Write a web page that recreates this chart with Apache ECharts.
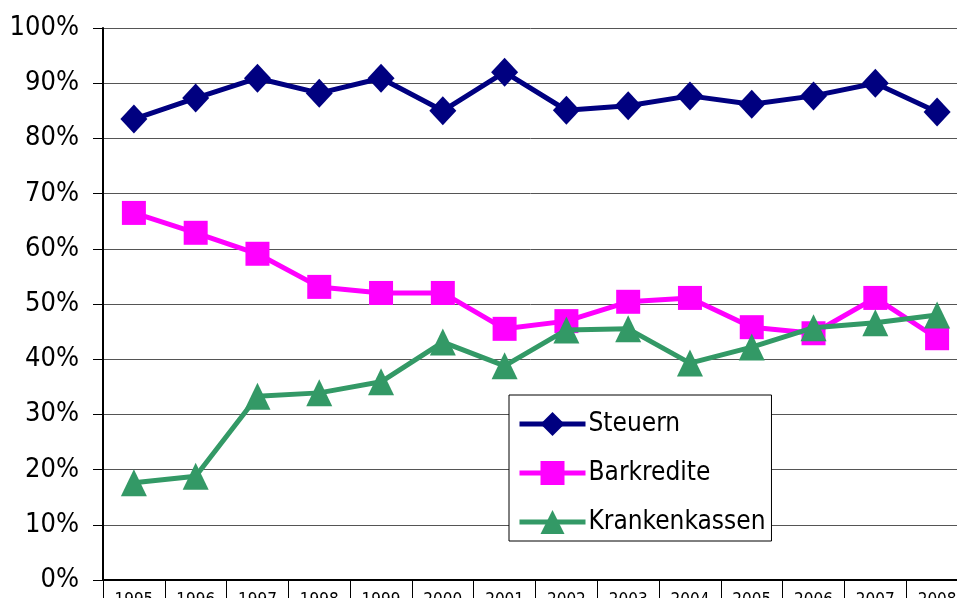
<!DOCTYPE html>
<html>
<head>
<meta charset="utf-8">
<script src="https://cdn.jsdelivr.net/npm/echarts@6/dist/echarts.min.js"></script>
<style>
html,body{margin:0;padding:0;background:#fff;}
#c{width:957px;height:598px;}
</style>
</head>
<body>
<div id="c"></div>
<script>
var categories = ['1995','1996','1997','1998','1999','2000','2001','2002','2003','2004','2005','2006','2007','2008'];
var steuern = [83.5, 87.3, 90.9, 88.2, 90.9, 85.0, 92.0, 85.1, 85.9, 87.7, 86.2, 87.7, 90.0, 84.8];
var barkredite = [66.5, 62.9, 59.1, 53.1, 52.0, 52.0, 45.5, 46.9, 50.4, 51.1, 45.8, 44.7, 51.1, 43.8];
var krankenkassen = [17.6, 18.8, 33.3, 33.9, 35.9, 43.1, 38.8, 45.3, 45.5, 39.3, 42.2, 45.7, 46.6, 48.0];
var seriesNames = ['Steuern', 'Barkredite', 'Krankenkassen'];

var FONT = '"Liberation Sans Narrow", "Arial Narrow", "DejaVu Sans Condensed", sans-serif';
var chart = echarts.init(document.getElementById('c'), null, {renderer: 'canvas'});
chart.setOption({
  animation: false,
  backgroundColor: '#ffffff',
  grid: {left: 103, top: 28, width: 865, height: 552, containLabel: false, outerBoundsMode: 'none'},
  legend: {
    orient: 'vertical',
    left: 509, top: 395,
    padding: [16, 6, 6, 8],
    itemWidth: 66, itemHeight: 30, itemGap: 23,
    borderColor: '#000', borderWidth: 1,
    backgroundColor: '#fff',
    lineStyle: {width: 5},
    textStyle: {fontFamily: FONT, fontSize: 26, color: '#000', padding: [0,0,0,-2]},
    data: seriesNames
  },
  xAxis: {
    type: 'category',
    data: categories,
    boundaryGap: true,
    axisLine: {lineStyle: {color: '#000', width: 2}},
    axisTick: {show: true, length: 30, lineStyle: {color: '#000', width: 1}},
    axisLabel: {fontFamily: FONT, fontSize: 17, color: '#000', margin: 12, verticalAlign: 'top'},
    splitLine: {show: false}
  },
  yAxis: {
    type: 'value',
    min: 0, max: 100, interval: 10,
    axisLine: {show: true, lineStyle: {color: '#000', width: 2}},
    axisTick: {show: true, length: 10, lineStyle: {color: '#000'}},
    axisLabel: {formatter: '{value}%', fontFamily: FONT, fontSize: 27, color: '#000', margin: 24},
    splitLine: {show: true, lineStyle: {color: '#555', width: 1}}
  },
  series: [
    {name: seriesNames[0], type: 'line', data: steuern, symbol: 'diamond', symbolSize: [27, 29],
     itemStyle: {color: '#000080'}, lineStyle: {color: '#000080', width: 5}, z: 3},
    {name: seriesNames[1], type: 'line', data: barkredite, symbol: 'rect', symbolSize: [24, 24],
     itemStyle: {color: '#FF00FF'}, lineStyle: {color: '#FF00FF', width: 5}, z: 2},
    {name: seriesNames[2], type: 'line', data: krankenkassen, symbol: 'triangle', symbolSize: [26, 27],
     itemStyle: {color: '#339966'}, lineStyle: {color: '#339966', width: 5}, z: 4}
  ]
});
</script>
</body>
</html>
